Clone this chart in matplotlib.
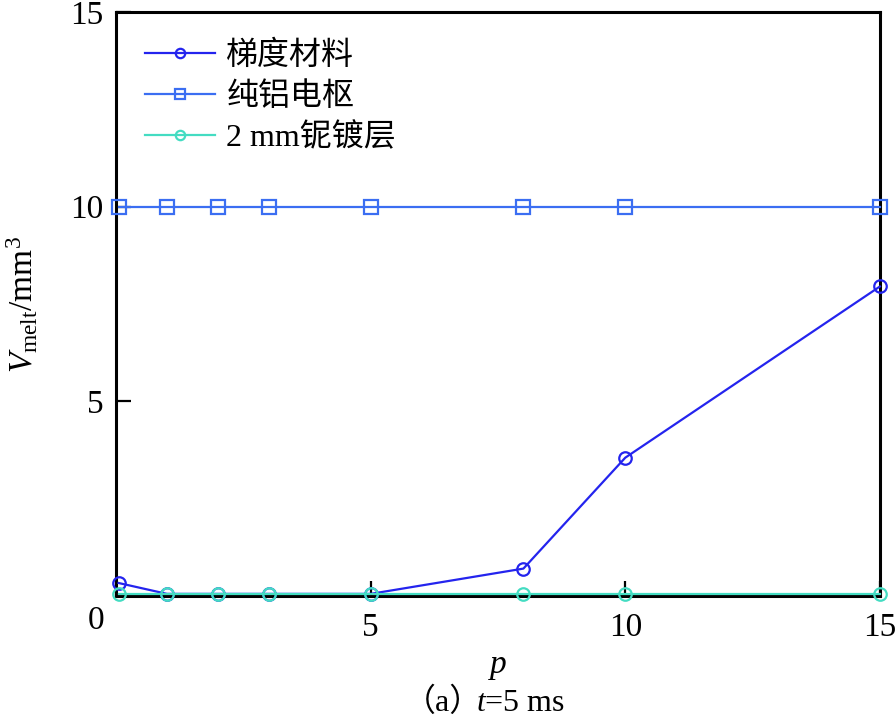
import matplotlib
matplotlib.use('Agg')
import matplotlib.pyplot as plt
from matplotlib.transforms import offset_copy

plt.rcParams['font.family'] = ['Liberation Serif', 'Noto Sans CJK SC']
plt.rcParams['mathtext.fontset'] = 'custom'
plt.rcParams['mathtext.rm'] = 'Liberation Serif'
plt.rcParams['mathtext.it'] = 'Liberation Serif:italic'

# data
p_vals = [0.05, 1, 2, 3, 5, 8, 10, 15]
v_grad = [0.33, 0.05, 0.05, 0.05, 0.05, 0.7, 3.55, 7.95]
v_al = [10, 10, 10, 10, 10, 10, 10, 10]
v_coat = [0.05, 0.05, 0.05, 0.05, 0.05, 0.05, 0.05, 0.05]
names = ['梯度材料', '纯铝电枢', '2 mm铌镀层']
ticks = [0, 5, 10, 15]
tick_labels = ['', '5', '10', '15']

fig = plt.figure(figsize=(8.96, 7.17), dpi=100)
ax = fig.add_axes([0.1295, 0.169, 0.8525, 0.814])

ax.plot(p_vals, v_grad, color='#2424ee', marker='o', ms=9, mfc='none', mew=1.6, lw=1.6,
        label=names[0], clip_on=False, zorder=3)
ax.plot(p_vals, v_al, color='#3b6ef2', marker='s', ms=10, mfc='none', mew=1.6, lw=1.6,
        label=names[1], clip_on=False, zorder=3)
ax.plot(p_vals, v_coat, color='#44dcc2', marker='o', ms=9, mfc='none', mew=1.6, lw=1.6,
        label=names[2], clip_on=False, zorder=4)

ax.set_xlim(0, 15)
ax.set_ylim(0, 15)
ax.set_xticks(ticks)
ax.set_xticklabels(tick_labels)
ax.set_yticks(ticks)
ax.set_yticklabels(tick_labels)
ax.tick_params(direction='in', length=11, width=1.6, labelsize=24,
               top=False, right=False)
ax.tick_params(axis='x', pad=12)
ax.tick_params(axis='y', pad=9)
for s in ax.spines.values():
    s.set_linewidth(2.2)

# shared "0" at the corner
ax.text(0, 0, '0', fontsize=24, ha='center', va='center',
        transform=offset_copy(ax.transAxes, fig=fig, x=-20, y=-25, units='dots'))

ax.set_ylabel(r'$V_{\mathrm{melt}}$/mm$^3$', fontsize=24, labelpad=22)
ax.set_xlabel(r'$p$', fontsize=24, labelpad=6)
fig.text(482 / 896, 0.0195, '（a）', fontsize=23, ha='right', va='center')
fig.text(476 / 896, 0.0195, '$t$=5 ms', fontsize=23, ha='left', va='center')

leg = ax.legend(loc='upper left', frameon=False, fontsize=23, handlelength=2.2,
                handletextpad=0.35, labelspacing=0.35, borderaxespad=0.5,
                markerscale=0.75)

fig.savefig('out.png', dpi=100)
